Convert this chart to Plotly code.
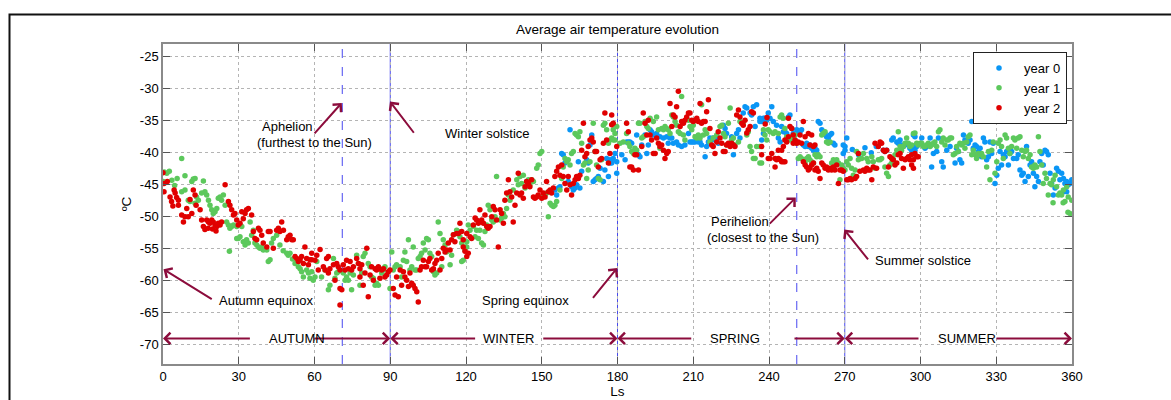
import plotly.graph_objects as go

# ---------------- data (Ls in degrees, temperature in deg C) ----------------
year0_points = [
    (155.2,-45.8),(155.9,-46.6),(156.6,-45.5),(157.2,-45.3),(157.9,-40.1),(158.5,-40.3),(159.2,-41.6),
    (160.5,-44.5),(161.2,-36.4),(161.8,-45.3),(162.5,-45.8),(163.2,-45.5),(163.8,-45.0),(164.5,-41.4),
    (165.1,-45.5),(165.8,-42.9),(167.8,-41.1),(168.4,-41.6),(169.1,-38.8),(169.8,-37.2),(170.4,-44.5),
    (171.1,-44.2),(171.7,-44.0),(172.4,-43.7),(173.1,-42.4),(174.4,-44.5),(175.0,-42.7),(175.7,-40.9),
    (176.4,-43.7),(177.0,-41.1),(177.0,-41.6),(177.7,-41.6),(178.3,-40.9),(179.0,-40.1),(179.7,-41.4),
    (179.7,-43.2),(181.7,-40.3),(183.0,-41.1),(183.6,-38.3),(184.3,-38.3),(184.9,-38.3),(185.6,-38.5),
    (187.6,-37.2),(188.3,-40.3),(188.9,-40.6),(189.6,-38.8),(190.9,-37.2),(191.6,-40.1),(192.2,-38.8),
    (192.9,-36.4),(193.5,-36.7),(194.2,-37.2),(195.5,-37.0),(196.8,-37.5),(198.2,-37.7),(199.5,-37.5),
    (200.1,-38.5),(200.8,-37.7),(201.5,-37.7),(202.1,-38.5),(203.4,-38.3),(204.1,-38.8),(205.4,-39.0),
    (206.7,-38.8),(208.1,-37.0),(208.7,-38.3),(209.4,-38.3),(210.0,-38.3),(210.7,-38.3),(211.4,-38.0),
    (212.0,-38.3),(212.7,-38.3),(213.3,-38.8),(214.7,-40.6),(215.3,-39.0),(216.0,-38.3),(216.6,-37.7),
    (217.3,-38.0),(217.9,-37.7),(218.6,-38.0),(219.3,-37.7),(219.9,-38.5),(221.9,-35.7),(222.6,-36.2),
    (223.2,-37.0),(224.6,-38.5),(225.2,-37.5),(225.9,-40.3),(227.2,-37.0),(227.9,-36.4),(228.5,-37.7),
    (229.8,-33.8),(230.5,-32.8),(231.2,-33.0),(232.5,-33.8),(233.1,-34.1),(233.8,-32.8),(234.5,-35.9),
    (235.1,-32.5),(236.4,-35.1),(236.4,-34.6),(237.1,-38.0),(237.1,-35.1),(237.8,-37.0),(237.8,-34.6),
    (238.4,-34.6),(238.4,-34.9),(239.1,-34.9),(239.7,-33.8),(240.4,-34.6),(241.1,-32.8),(241.7,-35.1),
    (243.0,-35.7),(243.7,-37.7),(244.4,-38.3),(245.0,-35.9),(245.7,-36.7),(246.3,-36.7),(247.0,-37.0),
    (247.7,-34.4),(248.3,-34.1),(249.0,-36.2),(249.6,-37.0),(250.3,-38.0),(251.0,-36.4),(251.6,-37.0),
    (252.3,-36.7),(252.9,-36.4),(253.6,-38.8),(254.3,-39.0),(254.9,-38.5),(255.6,-39.0),(256.2,-38.8),
    (256.9,-39.3),(257.6,-39.6),(258.2,-39.3),(258.9,-39.6),(259.5,-35.1),(260.2,-35.4),(260.9,-36.4),
    (261.5,-36.7),(262.2,-37.0),(262.8,-37.5),(263.5,-37.7),(264.2,-37.2),(264.8,-37.0),(265.5,-38.5),
    (266.1,-38.8),(269.4,-38.8),(269.4,-40.1),(270.1,-39.0),(270.1,-39.6),(270.8,-37.7),(273.0,-39.5),
    (275.5,-40.3),(278.0,-39.2),(280.5,-40.0),(282.5,-39.0),(285.3,-39.6),(285.9,-39.8),(286.6,-39.6),
    (288.6,-38.0),(289.2,-37.7),(290.6,-38.3),(291.2,-38.5),(291.9,-38.0),(292.5,-38.8),(293.2,-39.0),
    (293.9,-38.8),(294.5,-38.5),(295.8,-39.3),(296.5,-39.6),(297.2,-39.0),(297.2,-37.2),(297.8,-39.6),
    (297.8,-37.5),(298.5,-39.0),(300.5,-37.7),(301.8,-39.3),(302.4,-39.0),(303.8,-37.7),(304.4,-42.2),
    (305.1,-40.1),(306.4,-39.8),(307.1,-37.7),(308.4,-41.4),(309.0,-42.2),(310.4,-39.6),(311.7,-39.0),
    (313.7,-41.6),(314.3,-39.3),(315.0,-39.8),(315.6,-41.1),(316.3,-41.6),(317.0,-37.2),(317.6,-38.0),
    (318.3,-38.3),(318.9,-38.5),(319.6,-38.0),(320.3,-35.1),(320.9,-39.3),(321.6,-38.8),(322.2,-39.0),
    (322.9,-39.8),(323.6,-39.3),(324.2,-40.6),(324.9,-37.7),(325.5,-38.3),(326.2,-41.1),(326.9,-40.6),
    (327.5,-38.3),(328.2,-40.1),(328.8,-38.5),(329.5,-44.8),(330.2,-43.5),(330.8,-42.4),(331.5,-39.8),
    (332.1,-41.9),(332.8,-40.3),(333.5,-40.6),(334.1,-39.8),(334.8,-41.9),(335.4,-40.1),(336.1,-39.8),
    (336.8,-40.9),(338.1,-40.9),(338.7,-40.3),(339.4,-42.7),(340.1,-43.5),(340.7,-43.2),(341.4,-44.5),
    (342.0,-39.0),(342.7,-43.7),(343.4,-41.9),(344.0,-41.4),(344.7,-43.2),(345.3,-45.3),(346.0,-43.7),
    (346.7,-44.5),(347.3,-41.4),(348.0,-40.1),(348.6,-41.9),(349.3,-39.6),(349.9,-39.8),(350.6,-40.3),
    (351.3,-43.2),(351.9,-44.8),(352.6,-46.6),(353.3,-45.5),(353.9,-42.4),(354.6,-42.9),(355.2,-44.2),
    (355.9,-43.2),(356.6,-44.0),(356.6,-46.1),(357.2,-44.8),(357.9,-44.5),(357.9,-46.1),(358.5,-45.0),
    (359.2,-44.8),(359.9,-44.2),
]

year1_points = [
    (0.1,-44.5),(0.5,-43.0),(1.5,-43.2),(2.5,-42.9),(3.5,-44.3),(4.6,-45.1),(5.6,-44.0),(7.4,-40.9),
    (7.4,-46.1),(8.7,-43.6),(8.7,-45.8),(10.0,-47.4),(10.7,-47.6),(11.4,-44.5),(12.0,-44.1),(12.7,-44.0),
    (12.7,-47.9),(13.3,-46.9),(14.0,-47.4),(15.3,-46.3),(16.0,-44.4),(16.6,-46.1),(17.3,-46.6),(18.0,-47.4),
    (18.6,-48.2),(19.3,-48.9),(19.9,-49.5),(20.6,-49.2),(21.3,-48.7),(21.9,-47.1),(22.6,-46.9),(23.2,-47.4),
    (23.9,-46.6),(24.6,-48.2),(25.2,-50.8),(25.9,-51.3),(26.3,-55.4),(26.5,-51.8),(27.2,-51.5),(27.9,-51.3),
    (29.2,-51.5),(29.2,-53.4),(29.8,-53.4),(30.5,-53.1),(31.2,-51.5),(31.8,-53.9),(32.5,-54.4),(33.1,-53.6),
    (33.8,-54.1),(34.5,-50.8),(35.1,-52.9),(35.8,-52.1),(36.4,-54.1),(37.1,-54.4),(37.8,-54.7),(38.4,-54.9),
    (39.1,-54.7),(39.7,-55.2),(41.1,-55.2),(41.7,-57.0),(42.4,-56.7),(43.0,-54.1),(43.7,-53.4),(45.0,-52.9),
    (46.3,-54.4),(47.6,-55.3),(49.0,-55.7),(49.6,-56.0),(50.3,-55.7),(51.3,-56.6),(52.3,-57.3),(53.6,-57.8),
    (54.3,-58.1),(54.9,-58.6),(55.6,-59.4),(56.9,-58.3),(57.6,-58.8),(58.2,-59.6),(58.9,-58.6),(59.5,-59.9),
    (60.2,-59.4),(60.9,-57.0),(62.8,-59.4),(64.2,-58.3),(65.5,-61.4),(66.1,-60.7),(67.5,-56.5),(68.1,-59.6),
    (68.8,-58.8),(69.4,-58.6),(71.4,-58.8),(72.1,-59.9),(72.7,-59.4),(73.4,-59.9),(74.1,-58.8),(74.7,-61.4),
    (75.4,-59.1),(76.7,-56.0),(77.4,-57.3),(78.0,-60.7),(78.7,-58.8),(79.3,-56.2),(80.0,-55.7),(81.3,-57.3),
    (82.0,-57.8),(82.6,-59.4),(83.3,-59.6),(84.0,-60.7),(84.6,-60.4),(85.3,-60.7),(85.9,-58.1),(86.6,-58.8),
    (87.3,-58.3),(87.9,-57.8),(89.9,-61.2),(90.6,-55.5),(91.2,-58.3),(91.9,-57.8),(92.5,-57.5),(93.9,-57.8),
    (94.5,-59.4),(95.2,-56.8),(95.8,-55.5),(96.5,-57.0),(97.2,-53.6),(97.8,-58.3),(98.5,-57.8),(99.1,-54.7),
    (99.8,-58.3),(100.5,-58.3),(101.1,-56.5),(101.8,-56.2),(102.4,-55.7),(103.1,-54.1),(103.8,-55.2),
    (104.4,-53.4),(105.1,-53.6),(105.7,-55.7),(106.4,-56.2),(107.1,-58.6),(107.7,-59.1),(108.4,-58.8),
    (109.0,-50.8),(109.7,-52.6),(110.4,-57.8),(111.0,-53.6),(111.7,-54.4),(112.3,-55.5),(113.7,-57.5),
    (114.3,-56.0),(115.0,-52.8),(116.3,-52.1),(116.9,-52.3),(117.6,-53.1),(118.3,-54.1),(118.3,-57.0),
    (118.9,-56.8),(119.6,-55.2),(119.6,-54.7),(120.3,-54.7),(120.3,-53.9),(120.9,-51.3),(121.6,-52.1),
    (122.9,-51.5),(123.6,-53.1),(124.2,-52.1),(124.9,-53.4),(125.5,-52.1),(126.2,-54.1),(126.9,-54.4),
    (127.5,-52.3),(128.2,-51.3),(128.8,-48.2),(129.5,-48.9),(130.2,-50.5),(130.8,-50.8),(131.5,-50.0),
    (132.1,-43.7),(133.5,-50.5),(134.1,-50.2),(134.8,-49.5),(135.4,-50.0),(136.1,-48.7),(136.8,-46.6),
    (137.4,-47.4),(138.7,-45.8),(140.1,-44.2),(140.7,-45.0),(141.4,-43.7),(142.0,-44.8),(142.7,-43.5),
    (143.4,-45.5),(144.0,-44.5),(144.7,-44.2),(145.3,-45.0),(146.0,-44.2),(146.7,-44.5),(148.0,-42.4),
    (148.6,-41.9),(149.3,-40.1),(150.0,-39.8),(150.6,-46.9),(151.3,-46.6),(151.9,-46.3),(152.6,-50.0),
    (153.3,-47.9),(153.9,-48.2),(154.6,-48.4),(155.2,-48.2),(155.9,-47.6),(157.2,-45.8),(157.9,-44.0),
    (158.5,-42.2),(159.2,-40.9),(159.9,-41.4),(160.5,-41.1),(161.2,-41.9),(161.8,-40.1),(162.5,-39.8),
    (163.2,-37.0),(163.8,-37.2),(164.5,-37.5),(165.1,-36.7),(165.8,-38.5),(166.5,-41.9),(167.1,-41.6),
    (167.8,-44.0),(168.4,-42.7),(169.1,-41.4),(170.4,-35.4),(171.1,-39.8),(171.7,-41.9),(172.4,-44.0),
    (173.1,-44.2),(173.7,-41.1),(174.4,-35.7),(175.0,-35.4),(175.7,-36.4),(176.4,-38.5),(177.0,-38.0),
    (177.7,-37.7),(178.3,-38.0),(178.3,-36.4),(179.0,-37.0),(179.0,-38.0),(179.7,-35.9),(181.0,-38.5),
    (182.3,-38.3),(183.6,-37.0),(184.3,-38.5),(184.9,-39.0),(185.6,-39.8),(186.3,-40.1),(186.9,-39.3),
    (187.6,-39.6),(188.3,-35.4),(188.9,-35.4),(189.6,-37.7),(190.2,-37.5),(190.9,-35.1),(191.6,-35.9),
    (192.2,-36.2),(192.9,-34.6),(194.2,-35.1),(195.5,-34.4),(196.2,-36.4),(196.8,-39.3),(197.5,-36.2),
    (198.2,-36.4),(198.8,-35.9),(199.5,-36.2),(200.1,-36.4),(200.8,-37.0),(201.5,-34.1),(202.1,-34.4),
    (202.8,-35.1),(203.4,-35.7),(204.1,-36.7),(204.8,-37.0),(205.4,-31.2),(206.1,-37.2),(206.7,-38.0),
    (208.1,-34.9),(208.7,-35.9),(209.4,-36.4),(210.0,-35.7),(210.7,-37.5),(211.4,-37.7),(212.0,-37.2),
    (212.7,-37.7),(213.3,-32.5),(214.0,-37.2),(214.7,-36.4),(215.3,-37.0),(216.6,-38.3),(217.9,-37.7),
    (219.3,-37.2),(220.6,-35.9),(221.3,-35.7),(221.9,-37.0),(222.6,-37.5),(223.2,-38.8),(223.9,-35.4),
    (224.6,-33.0),(225.2,-38.0),(225.9,-37.7),(226.5,-38.8),(227.9,-38.3),(228.5,-35.1),(229.8,-35.4),
    (231.2,-37.2),(231.8,-36.7),(232.5,-39.0),(233.1,-39.8),(233.8,-40.9),(234.5,-40.9),(235.1,-39.0),
    (236.4,-39.0),(236.4,-41.6),(237.1,-41.6),(237.8,-36.4),(238.4,-37.2),(239.1,-38.0),(239.7,-36.4),
    (240.4,-36.7),(241.7,-37.0),(242.4,-36.7),(243.7,-37.0),(244.4,-34.4),(245.0,-34.1),(245.7,-34.6),
    (246.3,-36.2),(247.0,-37.5),(247.7,-37.7),(248.3,-38.0),(249.0,-37.5),(250.3,-37.2),(251.0,-38.5),
    (251.6,-40.9),(252.3,-40.6),(252.9,-40.9),(253.6,-41.1),(254.3,-41.4),(254.9,-40.9),(255.6,-40.6),
    (256.2,-41.1),(256.9,-41.4),(257.6,-41.6),(258.2,-40.3),(258.9,-40.6),(259.5,-40.3),(260.2,-40.6),
    (260.9,-37.2),(261.5,-37.0),(262.2,-36.7),(262.8,-38.3),(263.5,-38.5),(264.2,-38.3),(264.8,-41.6),
    (265.5,-41.1),(266.1,-41.4),(266.8,-41.1),(267.5,-41.6),(268.1,-44.2),(268.8,-41.9),(269.4,-42.4),
    (270.1,-42.7),(270.8,-41.4),(271.4,-41.9),(272.1,-40.9),(272.7,-42.4),(273.4,-43.5),(274.1,-42.7),
    (274.7,-39.8),(275.4,-41.1),(276.0,-40.9),(276.7,-40.9),(277.4,-40.1),(278.7,-40.9),(279.3,-41.4),
    (280.7,-40.6),(281.3,-41.4),(282.0,-42.4),(283.3,-41.1),(284.0,-41.1),(284.6,-40.9),(285.9,-42.2),
    (286.6,-43.2),(287.3,-43.7),(287.9,-41.9),(288.6,-41.6),(289.2,-41.1),(289.9,-40.3),(290.6,-39.6),
    (291.2,-36.7),(291.9,-39.0),(292.5,-39.6),(293.2,-39.0),(293.9,-38.5),(294.5,-37.7),(295.2,-38.5),
    (295.8,-39.0),(296.5,-38.8),(297.2,-37.0),(297.8,-36.9),(298.5,-38.5),(299.1,-38.8),(299.8,-38.5),
    (300.5,-38.5),(301.1,-39.0),(301.8,-39.0),(302.4,-38.8),(303.1,-38.5),(303.8,-39.0),(304.4,-38.8),
    (305.1,-38.5),(305.7,-38.3),(306.4,-39.0),(307.1,-36.7),(307.7,-36.4),(308.4,-38.3),(309.0,-37.7),
    (309.7,-38.8),(310.4,-38.0),(311.0,-38.0),(311.7,-37.7),(312.3,-37.7),(313.0,-40.3),(313.7,-40.1),
    (314.3,-39.0),(315.0,-39.8),(315.6,-38.5),(316.3,-38.8),(317.0,-38.5),(317.6,-39.3),(318.3,-38.3),
    (318.9,-37.5),(319.6,-37.2),(320.3,-40.3),(320.9,-39.6),(321.6,-40.3),(322.2,-40.9),(322.9,-40.1),
    (323.6,-40.3),(324.2,-40.1),(324.9,-40.6),(326.2,-42.2),(326.9,-39.8),(327.5,-44.2),(328.2,-39.6),
    (328.8,-38.3),(329.5,-43.2),(330.2,-41.4),(330.8,-38.5),(331.5,-38.0),(332.1,-39.0),(332.8,-40.9),
    (333.5,-37.2),(334.1,-37.7),(334.8,-39.3),(335.4,-40.1),(336.1,-39.0),(336.8,-37.7),(337.4,-38.0),
    (338.1,-39.3),(338.7,-37.7),(339.4,-37.5),(340.1,-39.6),(340.7,-40.6),(341.4,-39.8),(342.0,-39.6),
    (342.7,-40.9),(343.4,-40.3),(344.0,-42.2),(344.7,-42.4),(345.3,-41.9),(346.0,-42.2),(346.7,-37.5),
    (347.3,-39.8),(348.0,-41.9),(348.6,-44.8),(349.3,-43.2),(349.9,-44.0),(350.6,-46.6),(351.3,-44.8),
    (351.9,-45.0),(352.5,-47.8),(352.6,-44.2),(353.3,-43.5),(353.9,-45.3),(354.6,-46.6),(355.2,-46.3),
    (355.9,-46.6),(356.5,-47.8),(356.6,-45.8),(357.2,-47.6),(357.9,-45.3),(358.4,-49.3),(358.5,-46.9),
    (359.2,-49.5),(359.9,-47.4),
]

year2_points = [
    (0.0,-43.1),(0.4,-44.8),(0.4,-46.1),(1.7,-44.5),(2.8,-46.9),(3.4,-47.6),(3.9,-48.3),(4.4,-45.8),
    (4.8,-46.3),(5.4,-47.0),(6.1,-48.2),(6.1,-47.4),(7.4,-49.7),(8.1,-50.8),(8.7,-50.0),(9.4,-48.7),
    (10.0,-50.0),(10.7,-47.3),(11.4,-49.5),(12.0,-45.8),(12.7,-46.6),(13.1,-48.2),(14.7,-48.9),(15.3,-50.5),
    (16.0,-51.5),(16.6,-52.0),(17.3,-50.5),(17.9,-51.8),(18.0,-50.8),(18.6,-51.0),(19.3,-50.5),(19.6,-51.9),
    (19.9,-50.8),(20.6,-51.3),(21.0,-52.2),(21.3,-51.5),(21.9,-51.0),(22.6,-51.3),(23.2,-50.8),(24.6,-45.0),
    (25.9,-47.6),(26.5,-48.2),(27.2,-48.9),(27.9,-49.7),(28.5,-49.5),(29.2,-50.5),(29.8,-51.3),(30.5,-51.0),
    (31.2,-49.2),(31.8,-50.3),(32.5,-49.5),(33.1,-48.9),(33.8,-48.7),(35.1,-49.7),(35.8,-52.3),(36.4,-53.4),
    (37.1,-53.6),(37.8,-51.8),(38.4,-52.1),(39.1,-52.9),(39.7,-54.1),(41.1,-54.7),(41.7,-52.3),(42.4,-52.3),
    (43.7,-54.9),(45.0,-52.1),(45.7,-51.8),(46.3,-52.3),(47.0,-50.8),(47.7,-52.1),(49.0,-53.6),(49.6,-53.1),
    (50.3,-52.9),(51.0,-53.6),(51.6,-53.6),(52.3,-56.2),(53.0,-56.5),(53.6,-57.0),(54.3,-56.7),(54.9,-56.2),
    (55.6,-57.3),(56.2,-54.7),(56.9,-56.5),(57.6,-57.5),(58.2,-56.7),(58.9,-56.7),(58.9,-55.7),(60.2,-56.8),
    (60.9,-56.0),(61.5,-58.3),(62.2,-55.1),(63.5,-57.8),(64.2,-58.3),(64.8,-56.5),(65.5,-56.2),(65.5,-58.8),
    (66.1,-58.1),(67.5,-57.5),(68.1,-59.9),(68.8,-57.3),(69.4,-57.8),(70.1,-58.3),(70.1,-61.2),(70.8,-61.4),
    (70.1,-63.8),(71.4,-57.5),(72.1,-58.3),(72.7,-56.8),(73.4,-58.1),(74.1,-57.0),(74.7,-58.3),(75.4,-57.8),
    (76.7,-56.5),(77.4,-57.3),(78.0,-58.1),(78.0,-59.4),(78.7,-57.5),(79.3,-60.7),(80.0,-58.8),(80.7,-54.9),
    (81.3,-62.5),(82.0,-59.1),(82.6,-57.8),(83.3,-59.9),(84.0,-58.1),(84.6,-58.3),(85.3,-57.8),(85.9,-59.6),
    (86.6,-58.3),(87.3,-58.1),(87.9,-59.4),(88.6,-59.1),(89.2,-58.6),(89.9,-58.3),(91.2,-61.2),(91.9,-62.2),
    (92.5,-59.4),(93.2,-62.5),(93.9,-58.3),(94.5,-60.7),(95.2,-58.6),(95.8,-59.4),(96.5,-59.9),(97.2,-60.9),
    (97.8,-58.8),(98.5,-60.4),(99.1,-60.7),(99.8,-61.2),(100.5,-61.7),(101.1,-63.3),(101.8,-58.3),
    (102.4,-57.8),(103.1,-56.8),(103.8,-57.8),(104.4,-57.8),(105.1,-57.0),(105.7,-56.5),(106.4,-58.3),
    (107.1,-58.1),(107.7,-57.3),(108.4,-56.8),(109.0,-55.7),(109.7,-58.3),(110.4,-56.5),(111.0,-54.9),
    (111.7,-55.5),(112.3,-55.2),(113.0,-54.1),(113.7,-55.2),(114.3,-53.6),(115.0,-52.8),(115.6,-53.9),
    (116.3,-52.6),(117.0,-52.6),(117.6,-51.0),(118.3,-52.3),(118.9,-53.6),(118.9,-54.7),(119.6,-55.4),
    (120.3,-56.2),(120.3,-52.6),(120.9,-55.7),(121.6,-53.1),(122.2,-53.4),(122.9,-51.3),(123.6,-50.2),
    (124.2,-50.5),(124.9,-51.0),(125.5,-48.9),(126.2,-50.5),(126.9,-51.0),(127.5,-49.7),(128.2,-51.5),
    (128.8,-51.8),(129.5,-51.5),(130.2,-50.0),(130.8,-48.4),(131.5,-48.9),(132.1,-50.5),(132.8,-54.7),
    (133.5,-48.9),(134.1,-49.5),(134.8,-51.0),(135.4,-47.4),(136.1,-46.3),(136.8,-44.2),(137.4,-46.1),
    (138.1,-46.9),(138.7,-50.8),(139.4,-48.2),(140.1,-46.3),(140.7,-43.2),(141.4,-46.6),(142.0,-46.3),
    (142.7,-47.1),(143.4,-45.3),(144.0,-44.5),(144.7,-44.8),(145.3,-45.3),(146.0,-44.2),(146.7,-46.9),
    (147.3,-47.1),(148.0,-46.9),(148.6,-46.6),(149.3,-45.8),(150.0,-47.1),(150.6,-46.3),(151.3,-46.9),
    (151.9,-44.5),(152.6,-46.1),(153.3,-45.8),(153.9,-46.3),(154.6,-45.5),(155.2,-43.7),(155.9,-42.9),
    (156.6,-42.2),(157.2,-43.5),(157.9,-41.9),(158.5,-43.7),(159.2,-44.8),(159.9,-45.8),(160.5,-43.7),
    (161.2,-45.0),(161.8,-46.6),(162.5,-44.8),(163.2,-44.2),(163.8,-43.7),(164.5,-44.0),(165.1,-43.5),
    (165.8,-39.6),(166.5,-35.4),(167.1,-40.6),(167.8,-40.1),(168.4,-39.0),(169.1,-38.0),(169.8,-37.7),
    (170.4,-38.3),(171.1,-39.8),(171.7,-39.8),(172.4,-42.2),(173.1,-41.1),(173.7,-40.9),(174.4,-38.5),
    (175.0,-33.8),(175.7,-38.0),(176.4,-41.6),(177.0,-40.1),(177.7,-35.6),(177.7,-34.1),(178.3,-35.4),
    (179.7,-39.0),(183.6,-35.4),(184.3,-36.7),(184.9,-42.2),(185.6,-42.2),(186.3,-42.7),(186.9,-40.3),
    (187.6,-40.3),(188.3,-42.7),(189.6,-39.0),(190.2,-33.8),(190.9,-35.4),(191.6,-37.2),(192.2,-34.9),
    (192.9,-37.2),(193.5,-38.0),(194.2,-40.1),(194.9,-40.1),(195.5,-37.7),(196.2,-38.5),(196.8,-39.0),
    (197.5,-38.8),(198.2,-39.6),(198.8,-40.9),(199.5,-40.1),(200.1,-39.8),(200.8,-32.3),(201.5,-35.9),
    (202.1,-34.1),(202.8,-34.4),(203.4,-32.8),(204.1,-30.4),(204.8,-35.9),(205.4,-35.1),(206.1,-35.4),
    (206.7,-34.9),(207.4,-34.4),(208.1,-33.8),(208.7,-33.8),(209.4,-34.9),(210.0,-35.1),(210.7,-34.9),
    (211.4,-34.6),(212.0,-35.1),(212.7,-32.3),(213.3,-35.4),(214.0,-35.1),(214.7,-35.1),(215.3,-33.6),
    (216.0,-31.7),(216.6,-36.2),(217.3,-38.8),(217.9,-39.0),(218.6,-40.1),(219.3,-38.3),(219.9,-36.7),
    (220.6,-37.7),(221.3,-38.5),(221.9,-39.8),(222.6,-39.8),(223.2,-38.8),(223.9,-38.5),(224.6,-39.0),
    (225.2,-38.5),(225.9,-38.8),(226.5,-39.0),(227.2,-34.1),(227.9,-33.3),(228.5,-34.4),(229.2,-35.4),
    (229.8,-35.7),(230.5,-34.9),(231.2,-36.9),(231.8,-36.4),(232.5,-35.9),(233.1,-33.6),(233.8,-33.8),
    (237.1,-39.0),(237.1,-40.3),(238.5,-35.5),(239.2,-34.5),(239.7,-40.9),(240.4,-40.9),(241.1,-40.1),
    (242.4,-40.9),(242.4,-42.2),(243.0,-41.1),(243.7,-40.9),(243.7,-39.6),(244.4,-41.1),(245.0,-41.4),
    (245.0,-39.6),(245.7,-41.4),(245.7,-39.0),(246.3,-41.4),(246.3,-38.0),(247.0,-38.3),(247.7,-37.5),
    (247.7,-34.6),(248.3,-35.9),(249.0,-36.2),(249.6,-37.2),(249.6,-38.5),(250.3,-38.0),(251.0,-38.5),
    (251.6,-38.3),(252.3,-37.2),(252.9,-38.5),(253.6,-35.1),(253.6,-41.4),(254.3,-37.5),(254.3,-41.9),
    (254.9,-42.2),(255.6,-37.0),(255.6,-42.7),(256.2,-38.8),(256.2,-42.4),(256.9,-37.2),(256.9,-41.9),
    (257.6,-39.0),(257.6,-41.6),(258.2,-38.8),(258.2,-42.7),(258.9,-42.4),(259.5,-42.9),(260.2,-44.0),
    (260.9,-41.6),(261.5,-41.9),(262.2,-42.4),(262.8,-42.2),(263.5,-42.7),(264.2,-42.4),(264.8,-42.7),
    (265.5,-42.2),(266.1,-42.7),(266.8,-41.9),(267.5,-44.8),(268.1,-42.7),(268.8,-42.7),(269.4,-42.9),
    (270.8,-44.2),(271.4,-44.2),(272.1,-44.0),(272.7,-44.2),(274.1,-44.0),(274.7,-43.7),(275.4,-40.1),
    (276.0,-42.9),(277.4,-42.7),(278.0,-42.9),(278.7,-42.4),(279.3,-42.7),(280.0,-42.7),(280.7,-44.2),
    (281.3,-42.2),(282.0,-38.5),(282.6,-42.4),(283.3,-39.0),(284.0,-38.3),(284.6,-38.5),(285.3,-39.6),
    (285.9,-39.8),(286.6,-39.6),(287.3,-42.2),(287.9,-40.6),(288.6,-40.9),(289.2,-41.1),(289.9,-41.9),
    (290.6,-41.6),(291.2,-40.3),(291.9,-40.1),(292.5,-40.9),(293.2,-42.4),(293.9,-41.1),(294.5,-40.9),
    (295.2,-40.6),(295.8,-41.1),(296.5,-40.3),(296.5,-41.9),(297.2,-41.1),(297.2,-42.4),(297.8,-40.1),
    (298.5,-40.6),(299.1,-40.6),
]

x_ticks = [0, 30, 60, 90, 120, 150, 180, 210, 240, 270, 300, 330, 360]
x_tick_labels = ["0", "30", "60", "90", "120", "150", "180", "210", "240", "270", "300", "330", "360"]
y_ticks = [-70, -65, -60, -55, -50, -45, -40, -35, -30, -25]
y_tick_labels = ["-70", "-65", "-60", "-55", "-50", "-45", "-40", "-35", "-30", "-25"]

# Orbital events (Ls) and their line style
event_ls = [71, 90, 180, 251, 270]
event_dash = ["dash", "solid", "solid", "dash", "solid"]

series_names = ["year 0", "year 1", "year 2"]
series_colors = ["#0a96f5", "#5cc85c", "#e00000"]

FONT = "Liberation Sans, Arial, Helvetica, sans-serif"
MAROON = "#8c0c3c"

fig = go.Figure()
for name, pts, col in zip(series_names, [year0_points, year1_points, year2_points], series_colors):
    fig.add_trace(go.Scatter(
        x=[p[0] for p in pts], y=[p[1] for p in pts], mode="markers", name=name,
        marker=dict(color=col, size=5.5, line=dict(width=0)),
    ))

shapes = []
for ls, dash in zip(event_ls, event_dash):
    shapes.append(dict(type="line", xref="x", yref="paper", x0=ls, x1=ls, y0=0, y1=1,
                       line=dict(color="#4848f0", width=1, dash=dash), layer="between"))
# outer frame (extends past the right and bottom edge of the window)
shapes.append(dict(type="rect", xref="paper", yref="paper",
                   x0=(9.5 - 163) / 909, x1=(1200 - 163) / 909,
                   y0=(364 - 430) / 320, y1=(364 - 14.5) / 320,
                   line=dict(color="#111", width=2), fillcolor="rgba(0,0,0,0)", layer="above"))

annotations = []

def arrow(hx, hy, tx, ty):
    annotations.append(dict(x=hx, y=hy, ax=tx, ay=ty, xref="x", yref="y", axref="x", ayref="y",
                            text="", showarrow=True, arrowhead=4, arrowsize=1.1, arrowwidth=2,
                            arrowcolor=MAROON, standoff=0, startstandoff=0))

def label(x, y, text, anchor="left", size=13):
    annotations.append(dict(x=x, y=y, xref="x", yref="y", text=text, showarrow=False,
                            xanchor=anchor, yanchor="middle", font=dict(family=FONT, size=size, color="black")))

# event arrows
arrow(0.2, -58.2, 19.9, -63.0)
label(21.3, -63.0, "Autumn equinox")
arrow(70.8, -32.2, 59.5, -37.2)
label(38.4, -35.9, "Aphelion")
label(36.4, -38.4, "(furthest to the Sun)")
arrow(89.9, -32.0, 99.8, -37.1)
label(110.8, -37.0, "Winter solstice")
arrow(179.9, -58.0, 169.8, -62.9)
label(161.4, -63.0, "Spring equinox", anchor="right")
arrow(250.6, -47.0, 239.7, -51.3)
label(216.3, -50.8, "Perihelion")
label(214.7, -53.2, "(closest to the Sun)")
arrow(269.8, -52.0, 279.7, -56.9)
label(281.2, -56.9, "Summer solstice")

# season arrows
season_y = -69
for head, tail in [(0, 35), (90, 59.4), (90, 124.2), (180, 150), (180, 209.8), (270, 249.5),
                   (270, 299.8), (360, 329.5)]:
    arrow(head, season_y, tail, season_y)
for xc, name in [(52.9, "AUTUMN"), (137.0, "WINTER"), (226.7, "SPRING"), (318.3, "SUMMER")]:
    label(xc, season_y, name, anchor="center")

axis_common = dict(
    showline=True, linecolor="#8a8a8a", linewidth=1.5, mirror="ticks",
    ticks="inside", ticklen=7, tickcolor="#555", tickwidth=1,
    showgrid=True, gridcolor="#b4b4b4", gridwidth=1, griddash="dot",
    zeroline=False, automargin=False, tickfont=dict(family=FONT, size=13, color="black"),
)

fig.update_layout(
    width=1171, height=400, autosize=False,
    margin=dict(l=163, r=99, t=44, b=36, pad=0),
    paper_bgcolor="white", plot_bgcolor="white",
    font=dict(family=FONT, size=13, color="black"),
    title=dict(text="Average air temperature evolution", x=0.5, xref="paper", xanchor="center",
               y=1 - 29 / 400, yref="container", yanchor="middle",
               font=dict(family=FONT, size=13.5, color="black")),
    xaxis=dict(range=[0, 360], tickvals=x_ticks, ticktext=x_tick_labels,
               title=dict(text="Ls", standoff=2, font=dict(family=FONT, size=13.5)), **axis_common),
    yaxis=dict(range=[-73, -23], tickvals=y_ticks, ticktext=y_tick_labels,
               title=dict(text="ºC", standoff=5, font=dict(family=FONT, size=13.5)), **axis_common),
    legend=dict(x=(1067 - 163) / 909, xanchor="right", y=(364 - 52) / 320, yanchor="top",
                bgcolor="white", bordercolor="#222", borderwidth=1, itemwidth=40,
                font=dict(family=FONT, size=13, color="black"), tracegroupgap=0),
    shapes=shapes, annotations=annotations,
)

fig.write_html("out.html")
